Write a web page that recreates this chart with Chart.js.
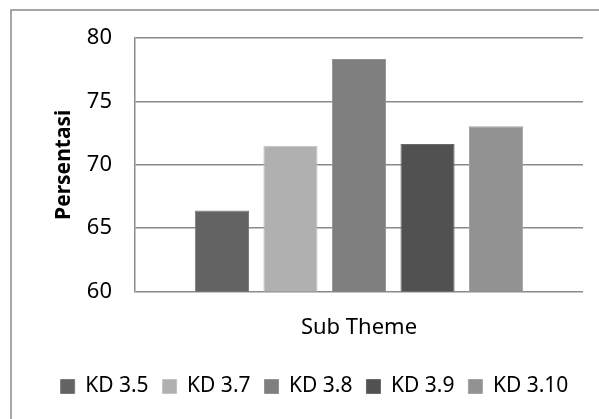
<!DOCTYPE html>
<html><head><meta charset="utf-8">
<script src="https://cdn.jsdelivr.net/npm/chart.js@4/dist/chart.umd.min.js"></script>
<style>html,body{margin:0;padding:0;background:#fff;overflow:hidden}#wrap{width:599px;height:419px;position:relative}</style>
</head><body><div id="wrap"><canvas id="c"></canvas></div>
<script>
const categories = [''];
const seriesNames = ['KD 3.5', 'KD 3.7', 'KD 3.8', 'KD 3.9', 'KD 3.10'];
const seriesValues = [[66.4], [71.5], [78.35], [71.65], [73.05]];
const seriesColors = ['#636363', '#b0b0b0', '#7f7f7f', '#515151', '#929292'];
const seriesBorders = ['#7a7a7a', '#c2c2c2', '#939393', '#6a6a6a', '#a3a3a3'];
const yTickValues = [60, 65, 70, 75, 80];
const yTitle = 'Persentasi';
const xTitle = 'Sub Theme';

const FONT = "'Noto Sans', 'Open Sans', sans-serif";
const LINE = '#8a8a8a';

const outerBorder = {
  id: 'outerBorder',
  beforeDraw(chart) {
    const ctx = chart.ctx;
    ctx.save();
    ctx.strokeStyle = LINE;
    ctx.lineWidth = 1.5;
    ctx.strokeRect(11, 10, chart.width + 20, chart.height + 20);
    ctx.restore();
  }
};

new Chart(document.getElementById('c'), {
  type: 'bar',
  data: {
    labels: categories,
    datasets: seriesNames.map((n, i) => ({
      label: n,
      data: seriesValues[i],
      backgroundColor: seriesColors[i],
      borderColor: seriesBorders[i],
      borderWidth: 1,
      barPercentage: 0.79,
      categoryPercentage: 0.765
    }))
  },
  options: {
    responsive: true,
    maintainAspectRatio: false,
    animation: false,
    layout: { padding: { left: 30, right: 0, top: 38, bottom: 12 } },
    plugins: {
      tooltip: { enabled: false },
      legend: {
        position: 'bottom',
        labels: {
          boxWidth: 14, boxHeight: 14, padding: 14, color: '#000',
          font: { family: FONT, size: 21 }
        }
      }
    },
    scales: {
      x: {
        grid: { display: false, drawTicks: false },
        border: { display: false },
        ticks: { display: false },
        title: {
          display: true, text: xTitle, color: '#000',
          font: { family: FONT, size: 22 },
          padding: { top: 23, bottom: 21 }
        }
      },
      y: {
        min: 60, max: 80,
        afterBuildTicks(scale) { scale.ticks = yTickValues.map(v => ({ value: v })); },
        afterFit(scale) { scale.width = 105; },
        grid: { color: LINE, lineWidth: 1.5, drawTicks: false },
        border: { display: true, color: LINE, width: 1.5 },
        ticks: {
          color: '#000', padding: 23,
          font: { family: FONT, size: 22 }
        },
        title: {
          display: true, text: yTitle, color: '#000',
          font: { family: FONT, size: 21, weight: 'bold' },
          padding: { top: 21, bottom: 10 }
        }
      },
      yRight: {
        position: 'right',
        display: true,
        grid: { display: false, drawTicks: false },
        border: { display: false },
        ticks: { display: false },
        afterFit(scale) { scale.width = 16; }
      }
    }
  },
  plugins: [outerBorder]
});
</script>
</body></html>
